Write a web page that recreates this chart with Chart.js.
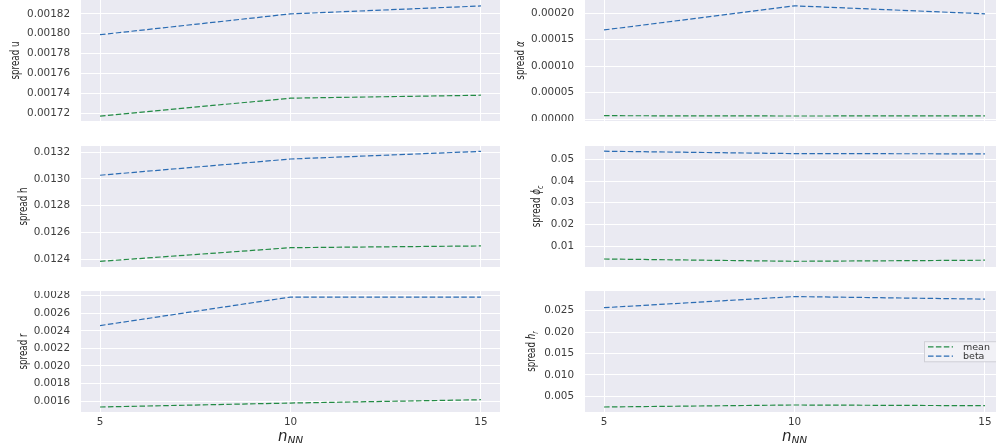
<!DOCTYPE html>
<html lang="en">
<head>
    <meta charset="UTF-8">
    <title>spread vs n_NN</title>
    <script src="https://cdn.jsdelivr.net/npm/chart.js"></script>
    <style>
        html, body { margin: 0; padding: 0; background: #fff; width: 996px; height: 443px; overflow: hidden; }
        .panel { position: absolute; }
    </style>
</head>

<body>
    <canvas id="panelU" class="panel"></canvas>
    <canvas id="panelAlpha" class="panel"></canvas>
    <canvas id="panelH" class="panel"></canvas>
    <canvas id="panelPhi" class="panel"></canvas>
    <canvas id="panelR" class="panel"></canvas>
    <canvas id="panelHr" class="panel"></canvas>

    <script>
        // n_NN values on the x axis
        const nNN = [5, 10, 15];

        // values (mean / beta)
        const uMean = [0.001717, 0.001735, 0.001738];
        const uBeta = [0.001799, 0.001820, 0.001828];
        const alphaMean = [0.0000068, 0.0000062, 0.0000066];
        const alphaBeta = [0.0001685, 0.000214, 0.000199];
        const hMean = [0.012385, 0.012487, 0.012500];
        const hBeta = [0.013027, 0.013148, 0.013205];
        const phiMean = [0.00416, 0.0031, 0.0036];
        const phiBeta = [0.0537, 0.0526, 0.0525];
        const rMean = [0.001532, 0.001577, 0.001615];
        const rBeta = [0.002460, 0.002785, 0.002785];
        const hrMean = [0.0025, 0.00297, 0.0028];
        const hrBeta = [0.0257, 0.0283, 0.0277];

        const seriesNames = ['mean', 'beta'];

        const meanColor = '#238b45';
        const betaColor = '#2b6cb3';
        const dash = [5.5, 2.4];
        const tickFont = { family: 'DejaVu Sans', size: 10.4 };

        // layout of the 3x2 grid (page pixels) and axis setup per subplot
        const panels = [
            { id: 'panelU', left: 0, top: 0, width: 500, height: 121, axisWidth: 81, xAxisHeight: 0,
              mean: uMean, beta: uBeta, min: 0.001712, max: 0.001834, step: 0.00002, decimals: 5,
              yTitle: [['spread u', 'n']], yTitleX: 18.6 },
            { id: 'panelAlpha', left: 500, top: 0, width: 504, height: 121, axisWidth: 85, xAxisHeight: 0,
              mean: alphaMean, beta: alphaBeta, min: -0.0000032, max: 0.000225, step: 0.00005, decimals: 5,
              yTitle: [['spread ', 'n'], ['α', 'i']], yTitleX: 23.6 },
            { id: 'panelH', left: 0, top: 146, width: 500, height: 121, axisWidth: 81, xAxisHeight: 0,
              mean: hMean, beta: hBeta, min: 0.012343, max: 0.013245, step: 0.0002, decimals: 4,
              yTitle: [['spread h', 'n']], yTitleX: 26.6 },
            { id: 'panelPhi', left: 500, top: 146, width: 504, height: 121, axisWidth: 85, xAxisHeight: 0,
              mean: phiMean, beta: phiBeta, min: 0.00048, max: 0.0561, step: 0.01, decimals: 2,
              yTitle: [['spread ', 'n'], ['ϕ', 'i'], ['c', 's']], yTitleX: 40.3 },
            { id: 'panelR', left: 0, top: 291, width: 500, height: 152, axisWidth: 81, xAxisHeight: 31,
              mean: rMean, beta: rBeta, min: 0.001475, max: 0.002854, step: 0.0002, decimals: 4,
              yTitle: [['spread r', 'n']], yTitleX: 26.6, xTitle: true },
            { id: 'panelHr', left: 500, top: 291, width: 504, height: 152, axisWidth: 85, xAxisHeight: 31,
              mean: hrMean, beta: hrBeta, min: 0.00133, max: 0.0296, step: 0.005, decimals: 3,
              yTitle: [['spread ', 'n'], ['h', 'i'], ['r', 's']], yTitleX: 35.3, xTitle: true, legend: true }
        ];

        // seaborn-like grey plot background
        const plotBackground = {
            id: 'plotBackground',
            beforeDraw(chart) {
                const { ctx, chartArea: a } = chart;
                ctx.save();
                ctx.fillStyle = '#eaeaf2';
                ctx.fillRect(a.left, a.top, a.right - a.left, a.bottom - a.top);
                ctx.restore();
            }
        };

        // draws text pieces with italic / subscript parts, returns width
        function drawParts(ctx, parts, size, x0, measureOnly) {
            let x = x0;
            for (const [text, style] of parts) {
                const s = style === 's' ? size * 0.7 : size;
                ctx.font = (style === 'n' ? '' : 'italic ') + s + 'px "DejaVu Sans"';
                if (!measureOnly) ctx.fillText(text, x, style === 's' ? size * 0.22 : 0);
                x += ctx.measureText(text).width;
            }
            return x - x0;
        }

        function axisTitles(p) {
            return {
                id: 'axisTitles',
                afterDraw(chart) {
                    const { ctx, chartArea: a } = chart;
                    ctx.save();
                    ctx.fillStyle = '#262626';
                    ctx.textBaseline = 'alphabetic';
                    // y title, rotated
                    ctx.save();
                    ctx.translate(p.yTitleX, (a.top + a.bottom) / 2);
                    ctx.rotate(-Math.PI / 2);
                    ctx.scale(0.7, 1);
                    const w = drawParts(ctx, p.yTitle, 12.5, 0, true);
                    drawParts(ctx, p.yTitle, 12.5, -w / 2);
                    ctx.restore();
                    // x title n_NN under the bottom row
                    if (p.xTitle) {
                        const cx = chart.scales.x.getPixelForValue(10);
                        ctx.font = 'italic 15px "DejaVu Sans"';
                        const wn = ctx.measureText('n').width;
                        ctx.font = 'italic 10.5px "DejaVu Sans"';
                        const ws = ctx.measureText('NN').width;
                        const x0 = cx - (wn + ws) / 2;
                        ctx.font = 'italic 15px "DejaVu Sans"';
                        ctx.fillText('n', x0, 150);
                        ctx.font = 'italic 10.5px "DejaVu Sans"';
                        ctx.fillText('NN', x0 + wn, 152.5);
                    }
                    ctx.restore();
                },
                afterDatasetsDraw(chart) {
                    if (!p.legend) return;
                    const { ctx, chartArea: a } = chart;
                    const right = a.right - 5;
                    const left = right - 75;
                    const cy = (a.top + a.bottom) / 2;
                    ctx.save();
                    ctx.fillStyle = '#f1f1f6';
                    ctx.strokeStyle = '#cfcfd6';
                    ctx.lineWidth = 1;
                    ctx.fillRect(left, cy - 10.3, right - left, 20.6);
                    ctx.strokeRect(left + 0.5, cy - 10.3 + 0.5, right - left - 1, 20.1);
                    chart.data.datasets.forEach((ds, i) => {
                        const y = cy - 4.65 + i * 9.3;
                        ctx.strokeStyle = ds.borderColor;
                        ctx.lineWidth = ds.borderWidth;
                        ctx.setLineDash(ds.borderDash);
                        ctx.beginPath();
                        ctx.moveTo(left + 4, y);
                        ctx.lineTo(left + 29, y);
                        ctx.stroke();
                        ctx.setLineDash([]);
                        ctx.fillStyle = '#333';
                        ctx.font = '9.5px "DejaVu Sans"';
                        ctx.textBaseline = 'middle';
                        ctx.fillText(ds.label, left + 39, y + 0.5);
                    });
                    ctx.restore();
                }
            };
        }

        function series(values) {
            return nNN.map((n, i) => ({ x: n, y: values[i] }));
        }

        panels.forEach(p => {
            const el = document.getElementById(p.id);
            el.width = p.width;
            el.height = p.height;
            el.style.left = p.left + 'px';
            el.style.top = p.top + 'px';
            el.style.width = p.width + 'px';
            el.style.height = p.height + 'px';

            new Chart(el.getContext('2d'), {
                type: 'line',
                data: {
                    datasets: [
                        { label: seriesNames[0], data: series(p.mean), borderColor: meanColor, borderWidth: 1.2,
                          borderDash: dash, pointRadius: 0, fill: false, tension: 0 },
                        { label: seriesNames[1], data: series(p.beta), borderColor: betaColor, borderWidth: 1.2,
                          borderDash: dash, pointRadius: 0, fill: false, tension: 0 }
                    ]
                },
                options: {
                    responsive: false,
                    animation: false,
                    events: [],
                    layout: { padding: 0 },
                    plugins: { legend: { display: false }, tooltip: { enabled: false } },
                    scales: {
                        x: {
                            type: 'linear', min: 4.5, max: 15.5,
                            grid: { color: '#ffffff', lineWidth: 1, drawTicks: false },
                            border: { display: false },
                            ticks: { display: !!p.xTitle, stepSize: 5, includeBounds: false, padding: 4,
                                     color: '#3d3d3d', font: tickFont, maxRotation: 0 },
                            afterFit(s) { s.height = p.xAxisHeight; s.paddingLeft = 0; s.paddingRight = 0; }
                        },
                        y: {
                            type: 'linear', min: p.min, max: p.max,
                            grid: { color: '#ffffff', lineWidth: 1, drawTicks: false },
                            border: { display: false },
                            ticks: { stepSize: p.step, includeBounds: false, padding: 11, color: '#3d3d3d',
                                     font: tickFont, callback: v => v.toFixed(p.decimals) },
                            afterFit(s) { s.width = p.axisWidth; s.paddingTop = 0; s.paddingBottom = 0; }
                        }
                    }
                },
                plugins: [plotBackground, axisTitles(p)]
            });
        });
    </script>
</body>
</html>
